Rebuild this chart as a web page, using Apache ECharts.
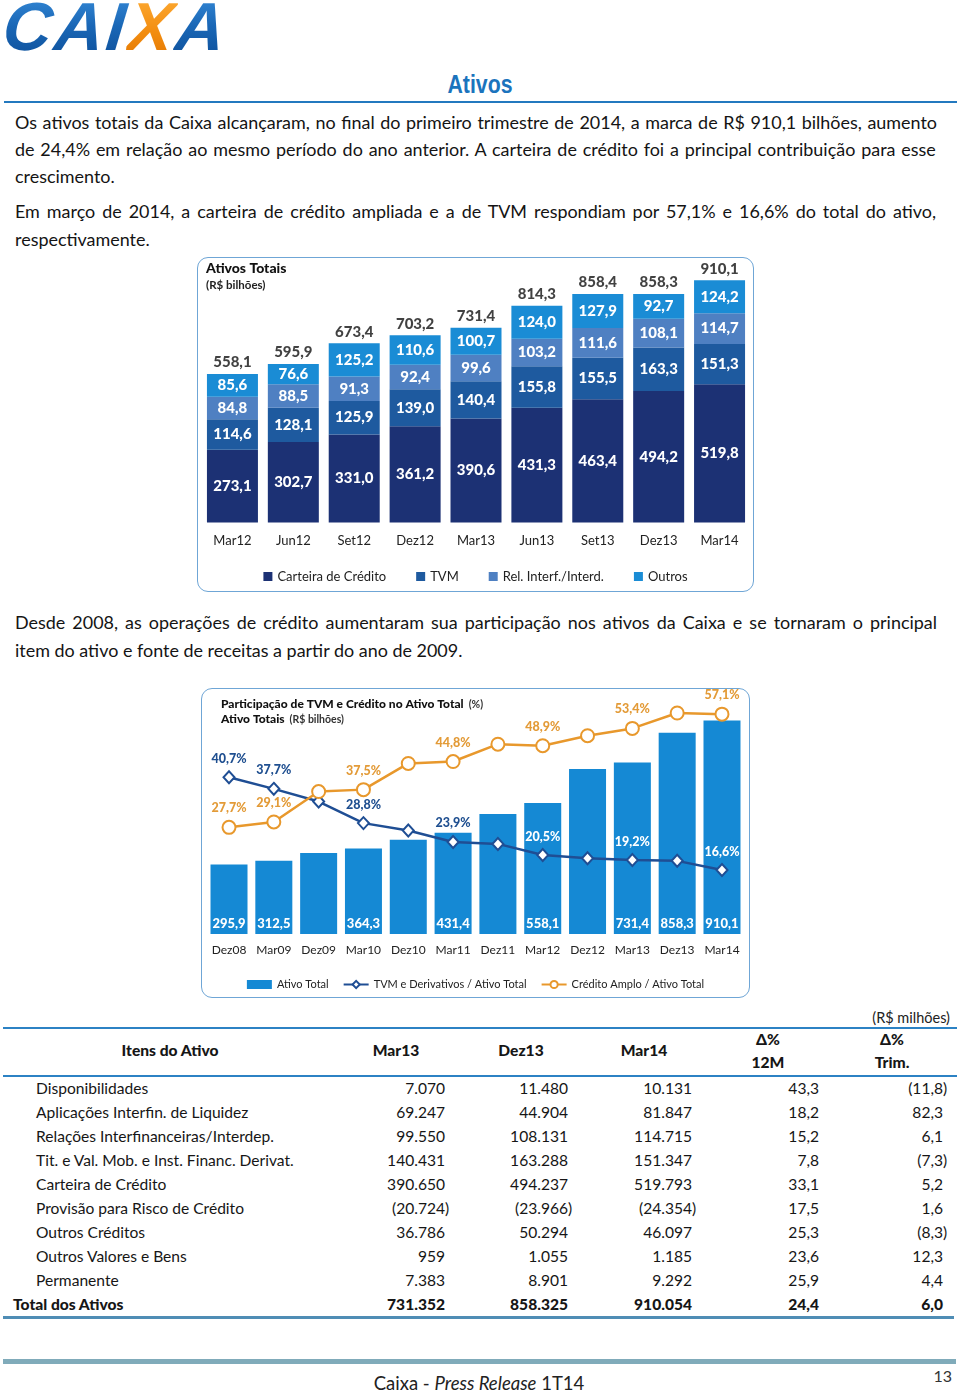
<!DOCTYPE html>
<html lang="pt-BR"><head><meta charset="utf-8"><title>Ativos</title>
<script src="https://cdn.jsdelivr.net/npm/echarts@6.0.0/dist/echarts.min.js"></script>
<style>
html,body{margin:0;padding:0;background:#fff}
body{position:relative;width:960px;height:1392px;overflow:hidden;font-family:Lato,'Noto Sans',sans-serif;color:#161616}
.a{position:absolute;white-space:nowrap}
.box{position:absolute;border:1.5px solid #6fa6d6;border-radius:11px;box-sizing:border-box}
.hang{display:inline-block;width:0}
#logo{left:0;top:-8px;font-family:'Liberation Sans',Arial,sans-serif;font-style:italic;font-weight:700;font-size:68px;line-height:68px;letter-spacing:2.5px;transform:skewX(-6deg);transform-origin:0 100%}
#logo .b{background:linear-gradient(180deg,#3a8fdc 0%,#1a67b6 50%,#0c4d97 100%);-webkit-background-clip:text;background-clip:text;color:transparent}
#logo .x{background:linear-gradient(180deg,#ffb03a 0%,#f28c0f 60%,#e07400 100%);-webkit-background-clip:text;background-clip:text;color:transparent}
</style></head><body>
<div id="logo" class="a"><span class="b">CAI</span><span class="x">X</span><span class="b">A</span></div>
<div id="ttl" class="a" style="left:480px;top:71px;font-family:'Liberation Sans Narrow','Liberation Sans',sans-serif;font-weight:700;font-size:26px;line-height:26px;color:#1b74bd">Ativos</div>
<div class="a" style="left:4px;top:101px;width:953px;height:2px;background:#2379bf"></div>

<div class="box" style="left:197px;top:257px;width:557px;height:335px"></div>
<div id="chart1" class="a" style="left:197px;top:258px;width:557px;height:334px"></div>

<div class="box" style="left:201px;top:688px;width:549px;height:310px"></div>
<div id="chart2" class="a" style="left:201px;top:688px;width:549px;height:310px"></div>

<div class="a" style="left:3px;top:1027px;width:954px;height:2px;background:#2c82c4"></div>
<div class="a" style="left:3px;top:1075px;width:954px;height:2px;background:#2c82c4"></div>
<div class="a" style="left:3px;top:1316px;width:951px;height:3px;background:#4f8db5"></div>
<div class="a" style="left:3px;top:1359px;width:953px;height:5px;background:#80abba"></div>

<div id="texts"></div>
<script>
// ---------- Chart 1: Ativos Totais (R$ bilhões) ----------
const cats1 = ['Mar12','Jun12','Set12','Dez12','Mar13','Jun13','Set13','Dez13','Mar14'];
const carteiraCredito1 = [273.1,302.7,331.0,361.2,390.6,431.3,463.4,494.2,519.8];
const tvm1 = [114.6,128.1,125.9,139.0,140.4,155.8,155.5,163.3,151.3];
const relInterf1 = [84.8,88.5,91.3,92.4,99.6,103.2,111.6,108.1,114.7];
const outros1 = [85.6,76.6,125.2,110.6,100.7,124.0,127.9,92.7,124.2];
const totais1 = [558.1,595.9,673.4,703.2,731.4,814.3,858.4,858.3,910.1];

// ---------- Chart 2: Participação de TVM e Crédito ----------
const cats2 = ['Dez08','Mar09','Dez09','Mar10','Dez10','Mar11','Dez11','Mar12','Dez12','Mar13','Dez13','Mar14'];
const ativoTotal2 = [295.9,312.5,345.5,364.3,402.1,431.4,512.0,558.1,703.2,731.4,858.3,910.1];
const ativoLabelShown2 = [1,1,0,1,0,1,0,1,0,1,1,1];
const tvmPct2 = [40.7,37.7,34.4,28.8,26.9,23.9,23.4,20.5,19.7,19.2,19.0,16.6];
const creditoPct2 = [27.7,29.1,37.0,37.5,44.3,44.8,49.3,48.9,51.5,53.4,57.4,57.1];
const pctLabelShown2 = [1,1,0,1,0,1,0,1,0,1,0,1];

// ---------- Table (R$ milhões) ----------
const itensAtivo = ['Disponibilidades','Aplicações Interfin. de Liquidez','Relações Interfinanceiras/Interdep.','Tit. e Val. Mob. e Inst. Financ. Derivat.','Carteira de Crédito','Provisão para Risco de Crédito','Outros Créditos','Outros Valores e Bens','Permanente','Total dos Ativos'];
const mar13 = [7070,69247,99550,140431,390650,-20724,36786,959,7383,731352];
const dez13 = [11480,44904,108131,163288,494237,-23966,50294,1055,8901,858325];
const mar14 = [10131,81847,114715,151347,519793,-24354,46097,1185,9292,910054];
const var12m = [43.3,18.2,15.2,7.8,33.1,17.5,25.3,23.6,25.9,24.4];
const varTrim = [-11.8,82.3,6.1,-7.3,5.2,1.6,-8.3,12.3,4.4,6.0];

const paraLines = [
 ['Os ativos totais da Caixa alcançaram, no final do primeiro trimestre de 2014, a marca de R$ 910,1 bilhões, aumento',122,true],
 ['de 24,4% em relação ao mesmo período do ano anterior. A carteira de crédito foi a principal contribuição para esse',149,true],
 ['crescimento.',176,false],
 ['Em março de 2014, a carteira de crédito ampliada e a de TVM respondiam por 57,1% e 16,6% do total do ativo,',211,true],
 ['respectivamente.',239,false],
 ['Desde 2008, as operações de crédito aumentaram sua participação nos ativos da Caixa e se tornaram o principal',622,true],
 ['item do ativo e fonte de receitas a partir do ano de 2009.',650,false]
];

const F = 'Lato';
const fmt1 = v => v.toFixed(1).replace('.', ',');
const fmtInt = v => String(Math.abs(v)).replace(/\B(?=(\d{3})+(?!\d))/g, '.');
const fmtDec = v => Math.abs(v).toFixed(1).replace('.', ',');
const texts = document.getElementById('texts');

function mk(html, css){
  const d = document.createElement('div');
  d.className = 'a';
  d.innerHTML = html;
  Object.assign(d.style, css);
  texts.appendChild(d);
  return d;
}
function measure(text, font){
  const c = document.createElement('canvas').getContext('2d');
  c.font = font; return c.measureText(text).width;
}

// calibrate paragraph font size from a non-justified line (448px wide in reference)
let pSize = 17 * 448 / measure(paraLines[6][0], '17px Lato');
pSize = Math.min(18.5, Math.max(15.5, pSize));
paraLines.forEach(([t, cy, just]) => {
  const lh = Math.round(pSize * 1.2);
  const el = mk('', {left:'15px', top:(cy - lh/2 - 0.5)+'px', fontSize:pSize+'px', lineHeight:lh+'px', color:'#141414'});
  el.textContent = t;
  if (just) {
    const w = measure(t, pSize + 'px Lato');
    const n = (t.match(/ /g) || []).length;
    el.style.wordSpacing = ((922 - w) / n) + 'px';
  }
});

// table
let tSize = 16 * 238 / measure(itensAtivo[2], '16px Lato');
tSize = Math.min(17.5, Math.max(14.5, tSize));
const tlh = Math.round(tSize * 1.2);
function cellNum(str, neg){ return neg ? '(' + str + '<span class="hang">)</span>' : str; }
const colRight = [445, 568, 692, 819, 943];
itensAtivo.forEach((name, i) => {
  const cy = 1088.5 + 24 * i;
  const last = i === itensAtivo.length - 1;
  const base = {top:(cy - tlh/2 - 0.5)+'px', fontSize:tSize+'px', lineHeight:tlh+'px', fontWeight: last ? '900' : '400', color:'#161616'};
  mk(name, Object.assign({left: last ? '13px' : '36px'}, base));
  const vals = [
    cellNum(fmtInt(mar13[i]), mar13[i] < 0),
    cellNum(fmtInt(dez13[i]), dez13[i] < 0),
    cellNum(fmtInt(mar14[i]), mar14[i] < 0),
    cellNum(fmtDec(var12m[i]), var12m[i] < 0),
    cellNum(fmtDec(varTrim[i]), varTrim[i] < 0)
  ];
  vals.forEach((v, k) => mk(v, Object.assign({right:(960 - colRight[k])+'px'}, base)));
});
// table header
function hdr(t, cx, cy){
  return mk(t, {left:cx+'px', top:(cy - tlh/2 - 0.5)+'px', fontSize:tSize+'px', lineHeight:tlh+'px', fontWeight:'900', transform:'translateX(-50%)', color:'#161616'});
}
hdr('Itens do Ativo', 170, 1051);
hdr('Mar13', 396, 1051);
hdr('Dez13', 521, 1051);
hdr('Mar14', 644, 1051);
hdr('Δ%', 768, 1040);
hdr('12M', 768, 1063);
hdr('Δ%', 892, 1040);
hdr('Trim.', 892, 1063);
mk('(R$ milhões)', {right:'10px', top:(1018 - 9.5)+'px', fontSize:'14.5px', lineHeight:'18px', color:'#222'});

// footer
mk('Caixa - <i>Press Release</i> 1T14', {left:'479px', top:(1383 - 11.5)+'px', fontSize:'18.5px', lineHeight:'22px', transform:'translateX(-50%)', color:'#222'});
mk('13', {right:'8px', top:(1376 - 10)+'px', fontSize:'16px', lineHeight:'19px', color:'#333'});

// fit title width
(function(){
  const t = document.getElementById('ttl');
  const w = t.getBoundingClientRect().width;
  t.style.transformOrigin = '0 0';
  t.style.transform = 'translateX(-32.5px) scaleX(' + (65 / w) + ')';
})();

// ---------- Chart 1 ----------
const c1 = echarts.init(document.getElementById('chart1'));
const inside1 = {show:true, position:'inside', color:'#fff', fontFamily:F, fontWeight:'900', fontSize:15, formatter:p => fmt1(p.value)};
c1.setOption({
  animation:false,
  title:{left:4, top:-3, text:'{b|Ativos Totais}\n{n|(R$ bilhões)}',
    textStyle:{lineHeight:17, rich:{b:{fontFamily:F, fontWeight:'900', fontSize:14, color:'#111', lineHeight:17}, n:{fontFamily:F, fontSize:11.5, color:'#222', lineHeight:17}}}},
  legend:{top:307, left:'center', icon:'rect', itemWidth:9, itemHeight:9, itemGap:30,
    textStyle:{fontFamily:F, fontSize:13, color:'#222'},
    data:['Carteira de Crédito','TVM','Rel. Interf./Interd.','Outros']},
  grid:{left:5, right:4, top:5, bottom:69.5},
  xAxis:{type:'category', data:cats1, axisLine:{show:false}, axisTick:{show:false},
    axisLabel:{interval:0, margin:12, fontFamily:F, fontSize:13, color:'#222'}},
  yAxis:{type:'value', min:0, max:975, show:false},
  series:[
    {name:'Carteira de Crédito', type:'bar', stack:'total', barWidth:51, data:carteiraCredito1, itemStyle:{color:'#1c3174'}, label:inside1},
    {name:'TVM', type:'bar', stack:'total', barWidth:51, data:tvm1, itemStyle:{color:'#1e5a9f'}, label:inside1},
    {name:'Rel. Interf./Interd.', type:'bar', stack:'total', barWidth:51, data:relInterf1, itemStyle:{color:'#4f80c2'}, label:inside1},
    {name:'Outros', type:'bar', stack:'total', barWidth:51, data:outros1, itemStyle:{color:'#1a8cd5'}, label:inside1},
    {name:'Total', type:'scatter', data:totais1, symbolSize:0.01, silent:true,
      label:{show:true, position:'top', distance:4, color:'#111', fontFamily:F, fontWeight:'900', fontSize:15, formatter:p => fmt1(p.value)}}
  ]
});

// ---------- Chart 2 ----------
const c2 = echarts.init(document.getElementById('chart2'));
const TVMC = '#1f4e94', CREDC = '#e8982c';
c2.setOption({
  animation:false,
  title:{left:15, top:4, text:'{b|Participação de TVM e Crédito no Ativo Total} {n|(%)}\n{b|Ativo Totais} {n|(R$ bilhões)}',
    textStyle:{lineHeight:15, rich:{b:{fontFamily:F, fontWeight:'900', fontSize:12, color:'#111', lineHeight:15}, n:{fontFamily:F, fontSize:10.5, color:'#333', lineHeight:15}}}},
  legend:{top:286, left:'center', itemWidth:25, itemHeight:9, itemGap:14,
    textStyle:{fontFamily:F, fontSize:11, color:'#222'},
    data:[{name:'Ativo Total', icon:'rect'}, 'TVM e Derivativos / Ativo Total', 'Crédito Amplo / Ativo Total']},
  grid:{left:5.6, right:5.6, top:15, bottom:64},
  xAxis:{type:'category', data:cats2, axisLine:{show:false}, axisTick:{show:false},
    axisLabel:{interval:0, margin:10, fontFamily:F, fontSize:12, color:'#222'}},
  yAxis:[{type:'value', min:0, max:985, show:false}, {type:'value', min:0, max:60, show:false}],
  series:[
    {name:'Ativo Total', type:'bar', barWidth:37, itemStyle:{color:'#1589d4'},
      data:ativoTotal2.map((v,i) => ({value:v, label:{show:!!ativoLabelShown2[i]}})),
      label:{position:'insideBottom', distance:4, color:'#fff', fontFamily:F, fontWeight:'900', fontSize:13, formatter:p => fmt1(p.value)}},
    {name:'TVM e Derivativos / Ativo Total', type:'line', yAxisIndex:1, symbol:'diamond', symbolSize:[11,12],
      lineStyle:{color:TVMC, width:2.5}, itemStyle:{color:'#fff', borderColor:TVMC, borderWidth:2},
      data:tvmPct2.map((v,i) => ({value:v, label:{show:!!pctLabelShown2[i], color: i >= 7 ? '#fff' : '#1f4f90'}})),
      label:{position:'top', distance:5, fontFamily:F, fontWeight:'900', fontSize:12.5, formatter:p => fmt1(p.value) + '%'}},
    {name:'Crédito Amplo / Ativo Total', type:'line', yAxisIndex:1, symbol:'circle', symbolSize:13,
      lineStyle:{color:CREDC, width:2.5}, itemStyle:{color:'#fff', borderColor:CREDC, borderWidth:2},
      data:creditoPct2.map((v,i) => ({value:v, label:{show:!!pctLabelShown2[i]}})),
      label:{position:'top', distance:5, color:'#e39b38', fontFamily:F, fontWeight:'900', fontSize:12.5, formatter:p => fmt1(p.value) + '%'}}
  ]
});
</script>
</body></html>
